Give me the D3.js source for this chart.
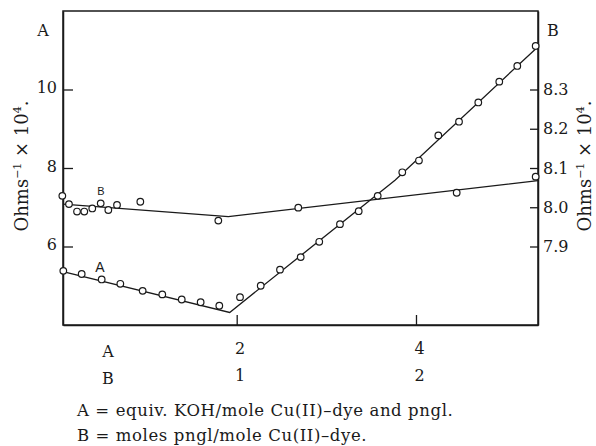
<!DOCTYPE html>
<html><head><meta charset="utf-8">
<script src="https://cdn.jsdelivr.net/npm/d3@7"></script>
<style>
body{margin:0;background:#fff;}
text{font-family:"DejaVu Serif","Liberation Serif",serif;fill:#1a1a1a;}
.sans{font-family:"Liberation Sans","DejaVu Sans",sans-serif;}
</style></head>
<body><svg id="c" width="596" height="446"></svg>
<script>
// Series A (left axis), x = equiv. KOH/mole
const aX = [0.066,0.271,0.494,0.702,0.951,1.170,1.387,1.598,1.806,2.037,2.268,2.483,2.714,2.921,3.152,3.361,3.573,3.847,4.033,4.249,4.480,4.695,4.929,5.130,5.335];
const aY = [5.38,5.30,5.16,5.05,4.87,4.78,4.65,4.58,4.49,4.71,5.00,5.41,5.73,6.12,6.57,6.90,7.29,7.89,8.19,8.83,9.18,9.67,10.20,10.60,11.11];
// Series B (right axis)
const bX = [0.055,0.129,0.219,0.300,0.389,0.483,0.568,0.665,0.925,1.795,2.687,4.454,5.335];
const bY = [8.029,8.008,7.989,7.989,7.997,8.010,7.993,8.006,8.014,7.966,7.999,8.037,8.078];
// fitted lines
const aFitX = [0.0625,1.922,3.766,5.361];
const aFitY = [5.36,4.32,7.69,11.09];
const bFitX = [0.0625,1.906,5.361];
const bFitY = [8.008,7.976,8.068];
// ticks
const leftTicks = [6,8,10];
const rightTicks = [7.9,8.0,8.1,8.2,8.3];
const xTicks = [2,4];
const xLabelsA = ["2","4"];
const xLabelsB = ["1","2"];

const svg = d3.select("#c");
const L=63,R=538,T=11,B=325;
const x = d3.scaleLinear().domain([0.0625,5.361]).range([L,R]);
const yL = d3.scaleLinear().domain([4,12]).range([B,T]);
const yR = d3.scaleLinear().domain([7.7,8.5]).range([B,T]);
const ink="#1a1a1a";
const serif="DejaVu Serif";

// frame
svg.append("rect").attr("x",L).attr("y",T).attr("width",R-L).attr("height",B-T)
  .attr("fill","none").attr("stroke",ink).attr("stroke-width",1.5);

const gl = svg.append("g").attr("transform",`translate(${L},0)`)
  .call(d3.axisLeft(yL).tickValues(leftTicks).tickSizeInner(-10).tickSizeOuter(0).tickPadding(6).tickFormat(d3.format("d")));
const gr = svg.append("g").attr("transform",`translate(${R},0)`)
  .call(d3.axisRight(yR).tickValues(rightTicks).tickSizeInner(-8).tickSizeOuter(0).tickPadding(5).tickFormat(d3.format(".1f")));
const gb = svg.append("g").attr("transform",`translate(0,${B})`)
  .call(d3.axisBottom(x).tickValues(xTicks).tickSizeInner(-10).tickSizeOuter(0).tickPadding(18).tickFormat((d,i)=>xLabelsA[i]));
const gb2 = svg.append("g").attr("transform",`translate(0,${B+27})`)
  .call(d3.axisBottom(x).tickValues(xTicks).tickSize(0).tickPadding(18).tickFormat((d,i)=>xLabelsB[i]));
gb2.selectAll("line").remove();
[gl,gr,gb,gb2].forEach(g=>{
  g.select(".domain").attr("stroke",ink).attr("stroke-width",1.5);
  g.selectAll(".tick line").attr("stroke",ink).attr("stroke-width",1.3);
  g.selectAll("text").attr("font-family",serif).attr("font-size",16).attr("fill",ink);
});
gb2.select(".domain").remove();
gb.selectAll("text").attr("dx",3);
gb2.selectAll("text").attr("dx",3);
gl.selectAll("text").attr("dy","0.2em");

// row labels
svg.append("text").attr("x",108).attr("y",357).attr("text-anchor","middle").attr("font-size",16).text("A");
svg.append("text").attr("x",108).attr("y",384).attr("text-anchor","middle").attr("font-size",16).text("B");

// axis titles
svg.append("text").attr("x",43).attr("y",36).attr("text-anchor","middle").attr("font-size",16).text("A");
svg.append("text").attr("x",553).attr("y",36).attr("text-anchor","middle").attr("font-size",16).text("B");

function ylab(cx,cy){
  const t = svg.append("text").attr("transform",`translate(${cx},${cy}) rotate(-90)`)
    .attr("text-anchor","middle").attr("font-size",18).attr("font-family","Liberation Serif");
  t.append("tspan").text("Ohms");
  t.append("tspan").attr("dy",-7).attr("font-size",11).text("\u22121");
  t.append("tspan").attr("dy",7).text(" \u00D7 10");
  t.append("tspan").attr("dy",-7).attr("font-size",11).text("4");
  t.append("tspan").attr("dy",7).text(".");
}
ylab(28,166);
ylab(591,166);

// caption
svg.append("text").attr("x",77).attr("y",416).attr("font-size",16.5).attr("letter-spacing",0.6).text("A = equiv. KOH/mole Cu(II)\u2013dye and pngl.");
svg.append("text").attr("x",77).attr("y",441).attr("font-size",16.5).attr("letter-spacing",0.6).text("B = moles pngl/mole Cu(II)\u2013dye.");

// lines
const lineA = d3.line().x((d,i)=>x(aFitX[i])).y((d,i)=>yL(aFitY[i]));
const lineB = d3.line().x((d,i)=>x(bFitX[i])).y((d,i)=>yR(bFitY[i]));
svg.append("path").attr("d",lineA(aFitX)).attr("fill","none").attr("stroke",ink).attr("stroke-width",1.3);
svg.append("path").attr("d",lineB(bFitX)).attr("fill","none").attr("stroke",ink).attr("stroke-width",1.3);

// points
svg.append("g").selectAll("circle").data(aX).join("circle")
  .attr("cx",(d)=>x(d)).attr("cy",(d,i)=>yL(aY[i])).attr("r",3.3)
  .attr("fill","#fff").attr("stroke",ink).attr("stroke-width",1.2);
svg.append("g").selectAll("circle").data(bX).join("circle")
  .attr("cx",(d)=>x(d)).attr("cy",(d,i)=>yR(bY[i])).attr("r",3.3)
  .attr("fill","#fff").attr("stroke",ink).attr("stroke-width",1.2);

// curve labels
svg.append("text").attr("class","sans").attr("x",100).attr("y",272).attr("text-anchor","middle").attr("font-size",14).text("A");
svg.append("text").attr("class","sans").attr("x",101).attr("y",195).attr("text-anchor","middle").attr("font-size",11).text("B");
</script></body></html>
